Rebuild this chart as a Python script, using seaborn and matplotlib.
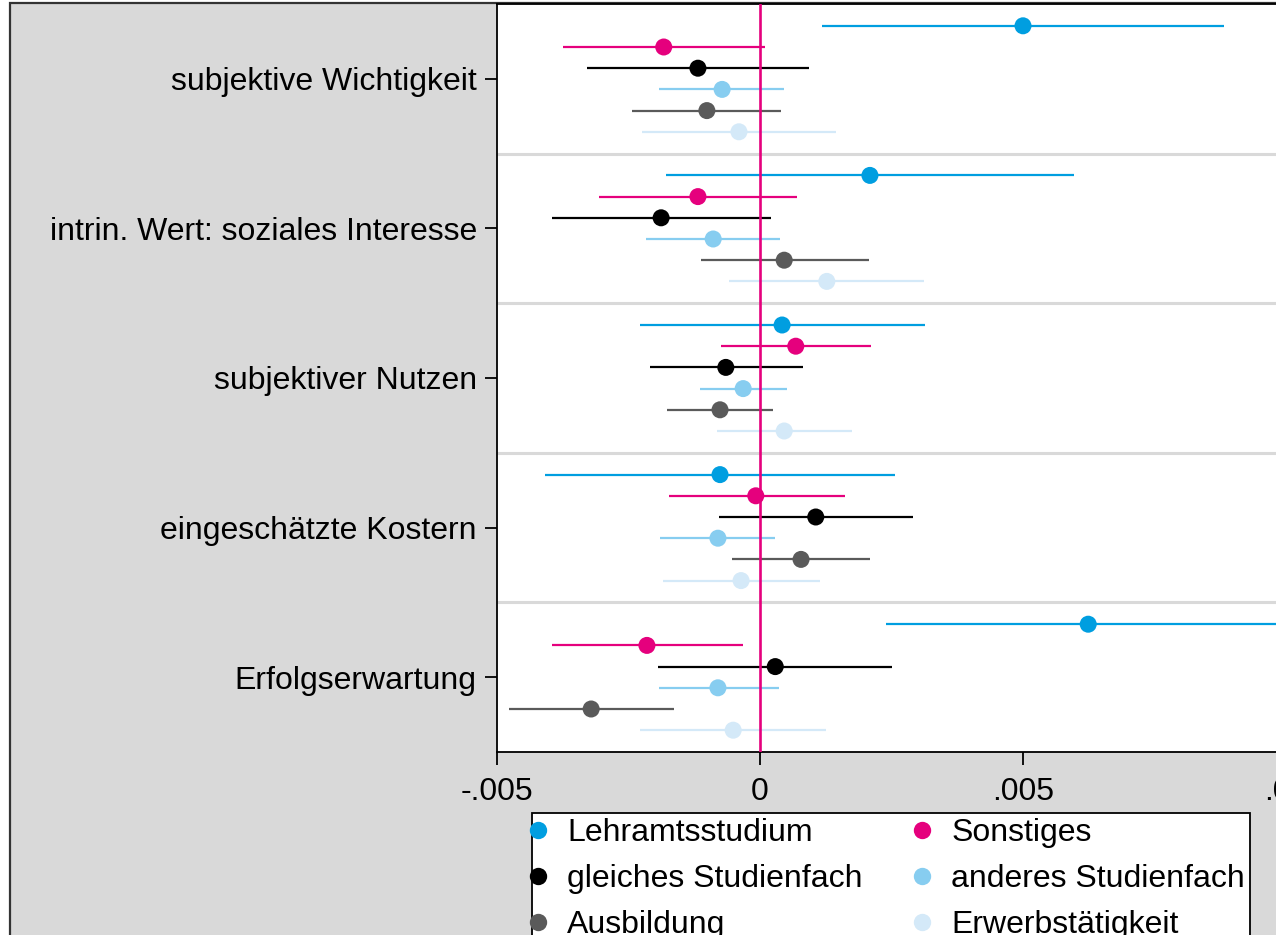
import numpy as np
import pandas as pd
import matplotlib
matplotlib.use("Agg")
import matplotlib.pyplot as plt
import matplotlib.patches as mpatches
from matplotlib.lines import Line2D
import seaborn as sns

categories = ["subjektive Wichtigkeit", "intrin. Wert: soziales Interesse",
              "subjektiver Nutzen", "eingeschätzte Kostern", "Erfolgserwartung"]
series = ["Lehramtsstudium", "Sonstiges", "gleiches Studienfach",
          "anderes Studienfach", "Ausbildung", "Erwerbstätigkeit"]
colors = ["#009ee0", "#e5007d", "#000000", "#87cdf0", "#5a5a5a", "#d4e9f8"]

lehramt_est = [0.00500, 0.00209, 0.00042, -0.00076, 0.00624]
lehramt_lo = [0.00118, -0.00179, -0.00228, -0.00409, 0.00240]
lehramt_hi = [0.00882, 0.00597, 0.00314, 0.00257, 0.01020]

sonst_est = [-0.00183, -0.00118, 0.00068, -0.00008, -0.00215]
sonst_lo = [-0.00375, -0.00306, -0.00074, -0.00173, -0.00395]
sonst_hi = [0.00010, 0.00070, 0.00211, 0.00162, -0.00032]

gleich_est = [-0.00118, -0.00188, -0.00065, 0.00106, 0.00029]
gleich_lo = [-0.00329, -0.00395, -0.00209, -0.00078, -0.00194]
gleich_hi = [0.00093, 0.00021, 0.00082, 0.00291, 0.00251]

anderes_est = [-0.00072, -0.00089, -0.00032, -0.00080, -0.00080]
anderes_lo = [-0.00192, -0.00217, -0.00114, -0.00190, -0.00192]
anderes_hi = [0.00046, 0.00038, 0.00051, 0.00029, 0.00036]

ausb_est = [-0.00101, 0.00046, -0.00076, 0.00078, -0.00321]
ausb_lo = [-0.00243, -0.00112, -0.00177, -0.00053, -0.00477]
ausb_hi = [0.00040, 0.00207, 0.00025, 0.00209, -0.00163]

erw_est = [-0.00040, 0.00127, 0.00046, -0.00036, -0.00051]
erw_lo = [-0.00224, -0.00059, -0.00082, -0.00184, -0.00228]
erw_hi = [0.00144, 0.00312, 0.00175, 0.00114, 0.00125]

xticks = [-0.005, 0.0, 0.005, 0.01]
xticklabels = ["-.005", "0", ".005", ".01"]

est_all = [lehramt_est, sonst_est, gleich_est, anderes_est, ausb_est, erw_est]
lo_all = [lehramt_lo, sonst_lo, gleich_lo, anderes_lo, ausb_lo, erw_lo]
hi_all = [lehramt_hi, sonst_hi, gleich_hi, anderes_hi, ausb_hi, erw_hi]

rows = []
step = 0.1417
for si, s in enumerate(series):
    for ci, c in enumerate(categories):
        rows.append(dict(series=s, category=c, est=est_all[si][ci],
                         lo=lo_all[si][ci], hi=hi_all[si][ci],
                         ypos=ci + (si - 2.5) * step))
df = pd.DataFrame(rows)

sns.set_style("white")
plt.rcParams["font.family"] = ["Liberation Sans", "DejaVu Sans"]
plt.rcParams["text.color"] = "black"
plt.rcParams["xtick.color"] = "black"
plt.rcParams["ytick.color"] = "black"

W, H = 1276, 935
fig = plt.figure(figsize=(W / 100, H / 100), dpi=100)
fig.patch.set_facecolor("white")

# graph region (gray with border)
bg = mpatches.Rectangle((10 / W, -0.05), 1.1, 1 - 3 / H + 0.05,
                        transform=fig.transFigure, facecolor="#d9d9d9",
                        edgecolor="#333333", linewidth=1.6, zorder=-10)
fig.patches.append(bg)

ax_left, ax_right, ax_top, ax_bottom = 497, 1300, 4, 752
ax = fig.add_axes([ax_left / W, 1 - ax_bottom / H, (ax_right - ax_left) / W,
                   (ax_bottom - ax_top) / H])
ax.set_zorder(1)
ax.set_facecolor("white")

px_per = 263 / 0.005
x0 = -0.005
x1 = 0.0 + (ax_right - 760) / px_per
ax.set_xlim(x0, x1)
ax.set_ylim(len(categories) - 0.5, -0.5)

# separators
for k in range(len(categories) - 1):
    ax.axhline(k + 0.5, color="#d9d9d9", lw=2.2, zorder=1)

# CIs
palette = dict(zip(series, colors))
for s in series:
    d = df[df.series == s]
    ax.hlines(d.ypos, d.lo, d.hi, color=palette[s], lw=1.6, zorder=2)

ax.axvline(0, color="#e5007d", lw=1.9, zorder=3)

sns.scatterplot(data=df, x="est", y="ypos", hue="series", palette=palette,
                hue_order=series, s=150, linewidth=0, legend=False, ax=ax,
                zorder=4)

ax.set_xticks(xticks)
ax.set_xticklabels(xticklabels, fontsize=23)
ax.set_yticks(range(len(categories)))
ax.set_yticklabels(categories, fontsize=23)
ax.set_xlabel("")
ax.set_ylabel("")
ax.tick_params(axis="both", which="major", direction="out", length=9,
               width=1.3, color="black", left=True, bottom=True,
               labelcolor="black")
ax.tick_params(axis="y", pad=5.5)
ax.tick_params(axis="x", pad=8.8)
for sp in ["left", "bottom", "top"]:
    ax.spines[sp].set_visible(True)
    ax.spines[sp].set_color("black")
    ax.spines[sp].set_linewidth(1.3)
ax.spines["right"].set_visible(False)

# legend: row-wise order like the reference (matplotlib fills columns first)
order = [0, 2, 4, 1, 3, 5]
handles = [Line2D([], [], marker="o", ls="", color=colors[i], markersize=12.5,
                  markeredgewidth=0) for i in order]
labels = [series[i] for i in order]
leg = fig.legend(handles, labels, loc="upper left",
                 bbox_to_anchor=(532 / W, 1 - 813 / H),
                 bbox_transform=fig.transFigure, ncol=2, fontsize=23,
                 frameon=True, fancybox=False, framealpha=1,
                 edgecolor="black", borderpad=0.16, handlelength=0.06,
                 handletextpad=0.88, columnspacing=1.84, labelspacing=0.5,
                 borderaxespad=0)
leg.get_frame().set_linewidth(1.3)
leg.set_zorder(5)

fig.savefig("out.png", dpi=100)
